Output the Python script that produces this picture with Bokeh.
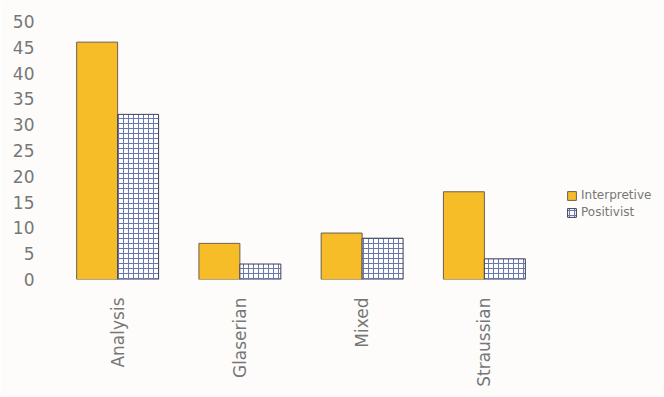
from bokeh.plotting import figure
from bokeh.models import ColumnDataSource, FactorRange, Legend, LegendItem
from bokeh.transform import dodge
from bokeh.embed import file_html
from bokeh.resources import INLINE

categories = ["Analysis", "Glaserian", "Mixed", "Straussian"]
interpretive = [46, 7, 9, 17]
positivist = [32, 3, 8, 4]
y_ticks = [0, 5, 10, 15, 20, 25, 30, 35, 40, 45, 50]

src = ColumnDataSource(dict(cat=categories, interp=interpretive, pos=positivist))

p = figure(x_range=FactorRange(*categories), y_range=(0, 50),
           frame_width=489, frame_height=258,
           min_border_left=56, min_border_top=21, min_border_bottom=118,
           min_border_right=0,
           output_backend="svg", toolbar_location=None,
           background_fill_color="#fdfcfa", border_fill_color="#fdfcfa")
p.x_range.range_padding = 0

bw = 0.335
r1 = p.vbar(x=dodge("cat", -bw / 2, range=p.x_range), top="interp", width=bw,
            source=src, fill_color="#f6bd28", line_color="#6b6050", line_width=1)
r2 = p.vbar(x=dodge("cat", bw / 2, range=p.x_range), top="pos", width=bw,
            source=src, fill_color="#ffffff", line_color="#3d3f55", line_width=1,
            hatch_pattern="+", hatch_color="#6a78b0", hatch_scale=5, hatch_weight=1)

p.xgrid.visible = False
p.ygrid.visible = False
p.outline_line_color = None
for ax in (p.xaxis, p.yaxis):
    ax.axis_line_color = None
    ax.major_tick_line_color = None
    ax.minor_tick_line_color = None
    ax.major_label_text_font = "DejaVu Sans"
    ax.major_label_text_color = "#777777"
p.yaxis.major_label_text_font_size = "17px"
p.xaxis.major_label_text_font_size = "17px"
p.yaxis.ticker = y_ticks
p.yaxis.major_label_standoff = 16
p.xaxis.major_label_orientation = 1.5708
p.xaxis.major_label_standoff = 12

legend = Legend(items=[LegendItem(label="Interpretive", renderers=[r1]),
                       LegendItem(label="Positivist", renderers=[r2])],
                location=(21, 60), background_fill_alpha=0, border_line_color=None,
                label_text_font="DejaVu Sans", label_text_font_size="12px",
                label_text_color="#777777", glyph_width=11, glyph_height=11,
                spacing=3, padding=2, label_standoff=4, margin=12)
p.add_layout(legend, "right")

open("out.html", "w").write(file_html(p, INLINE))
